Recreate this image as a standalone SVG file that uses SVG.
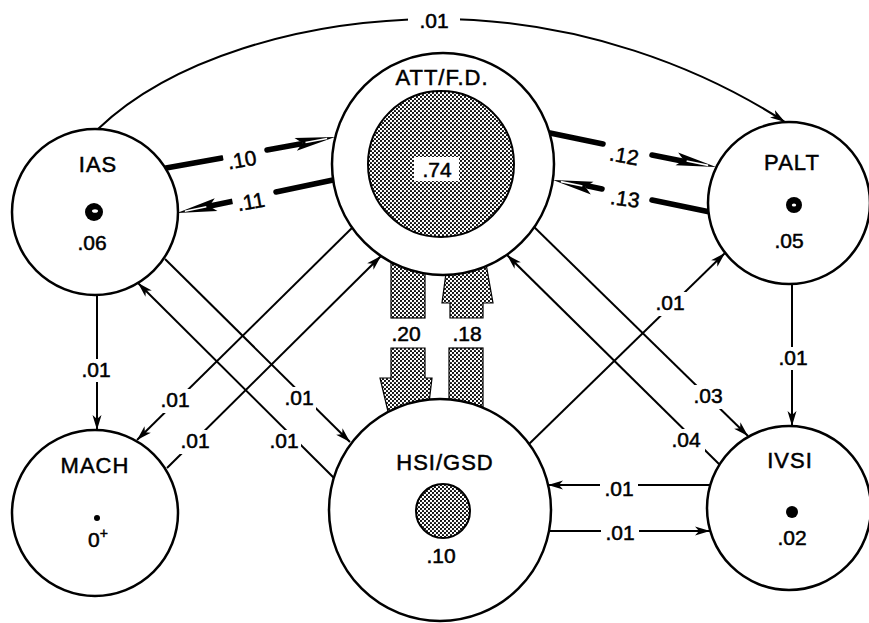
<svg xmlns="http://www.w3.org/2000/svg" width="869" height="623" viewBox="0 0 869 623">
<style>
.node{fill:#fff;stroke:#000;stroke-width:2.5}
.ln{fill:none;stroke:#000;stroke-width:2}
.thick{fill:none;stroke:#000;stroke-width:5.5;stroke-linecap:round}
.shade{fill:url(#dots);stroke:#000;stroke-width:1.2}
.gap{fill:#fff}
.name{font-family:"Liberation Sans",Arial,sans-serif;font-size:22px;letter-spacing:1px;text-anchor:middle;fill:#000;stroke:#000;stroke-width:0.5}
.val{font-family:"Liberation Sans",Arial,sans-serif;font-size:21px;text-anchor:middle;fill:#000;stroke:#000;stroke-width:0.5}
.lbl{font-family:"Liberation Sans",Arial,sans-serif;font-size:21px;text-anchor:middle;fill:#000;stroke:#000;stroke-width:0.5}
</style>
<defs>
<pattern id="dots" width="4" height="4" patternUnits="userSpaceOnUse">
<rect width="4" height="4" fill="#fff"/>
<circle cx="1" cy="1" r="1.1" fill="#000"/>
<circle cx="3" cy="3" r="1.1" fill="#000"/>
</pattern>
<marker id="ah" viewBox="-15 -5 16 10" refX="0" refY="0" markerWidth="16" markerHeight="10" markerUnits="userSpaceOnUse" orient="auto">
<path d="M0,0 L-15,-4.5 L-11,0 L-15,4.5 Z" fill="#000"/>
</marker>
<g id="bighead">
<path d="M0,0 L-40,-6.5 L-33,0 L-40,6.5 Z" fill="#000"/>
<path d="M-30,0 L-8,0" stroke="#fff" stroke-width="1.6"/>
</g>
</defs>

<g id="connectors">
<path class="ln" d="M98,129 C170,60 300,20 433,19 C580,18 705,70 785,122" marker-end="url(#ah)"/>
<path class="thick" d="M166,168 L222,158 M267,150 L300,144"/>
<use href="#bighead" transform="translate(335,137) rotate(-10.5)"/>
<path class="thick" d="M333,180 L276,192 M234,201 L210,206"/>
<use href="#bighead" transform="translate(177,213) rotate(168)"/>
<path class="thick" d="M550,133 L603,144 M652,155 L682,161"/>
<use href="#bighead" transform="translate(716,167) rotate(11.7)"/>
<path class="thick" d="M710,212 L652,200 M602,189 L588,186"/>
<use href="#bighead" transform="translate(553,180) rotate(-168.3)"/>
<rect class="shade" x="391" y="250" width="34" height="68"/>
<polygon class="shade" points="391,348 425,348 425,378 432,378 427,420 390,420 380,378 391,378"/>
<rect class="shade" x="449" y="348" width="34" height="72"/>
<polygon class="shade" points="450,318 483,318 483,303 493,303 485,258 448,258 442,303 450,303"/>
<line class="ln" x1="97" y1="295" x2="97" y2="430" marker-end="url(#ah)"/>
<line class="ln" x1="792" y1="284" x2="792" y2="426" marker-end="url(#ah)"/>
<line class="ln" x1="357" y1="223" x2="137" y2="440" marker-end="url(#ah)"/>
<line class="ln" x1="167" y1="468" x2="381" y2="256" marker-end="url(#ah)"/>
<line class="ln" x1="165" y1="259" x2="350" y2="442" marker-end="url(#ah)"/>
<line class="ln" x1="335" y1="479" x2="138" y2="283" marker-end="url(#ah)"/>
<line class="ln" x1="528" y1="445" x2="725" y2="253" marker-end="url(#ah)"/>
<line class="ln" x1="530" y1="223" x2="748" y2="436" marker-end="url(#ah)"/>
<line class="ln" x1="720" y1="465" x2="507" y2="255" marker-end="url(#ah)"/>
<line class="ln" x1="712" y1="485" x2="548" y2="485" marker-end="url(#ah)"/>
<line class="ln" x1="546" y1="531" x2="710" y2="531" marker-end="url(#ah)"/>

<!-- gaps behind labels -->
<rect class="gap" x="408" y="10" width="52" height="22"/>
<rect class="gap" x="224" y="150" width="36" height="22" transform="rotate(-10 242 161)"/>
<rect class="gap" x="233" y="192" width="36" height="22" transform="rotate(-10 251 203)"/>
<rect class="gap" x="606" y="146" width="36" height="22" transform="rotate(10 624 157)"/>
<rect class="gap" x="607" y="189" width="36" height="22" transform="rotate(8 625 200)"/>
<rect class="gap" x="81" y="359" width="30" height="23"/>
<rect class="gap" x="778" y="347" width="30" height="23"/>
<rect class="gap" x="158" y="389" width="34" height="24"/>
<rect class="gap" x="178" y="430" width="34" height="24"/>
<rect class="gap" x="282" y="387" width="34" height="24"/>
<rect class="gap" x="267" y="430" width="34" height="24"/>
<rect class="gap" x="653" y="292" width="34" height="24"/>
<rect class="gap" x="689" y="385" width="38" height="24"/>
<rect class="gap" x="667" y="429" width="38" height="24"/>
<rect class="gap" x="600" y="478" width="38" height="20"/>
<rect class="gap" x="601" y="522" width="38" height="20"/>

<text class="lbl" x="434" y="28">.01</text>
<text class="lbl" x="242" y="167" transform="rotate(-10 242 160)">.10</text>
<text class="lbl" x="251" y="209" transform="rotate(-10 251 202)">.11</text>
<text class="lbl" x="624" y="163" transform="rotate(10 624 156)">.12</text>
<text class="lbl" x="625" y="206" transform="rotate(8 625 199)">.13</text>
<text class="lbl" x="406" y="341">.20</text>
<text class="lbl" x="467" y="341">.18</text>
<text class="lbl" x="96" y="377">.01</text>
<text class="lbl" x="793" y="365">.01</text>
<text class="lbl" x="175" y="407">.01</text>
<text class="lbl" x="195" y="448">.01</text>
<text class="lbl" x="299" y="405">.01</text>
<text class="lbl" x="284" y="448">.01</text>
<text class="lbl" x="670" y="310">.01</text>
<text class="lbl" x="708" y="403">.03</text>
<text class="lbl" x="686" y="447">.04</text>
<text class="lbl" x="619" y="496">.01</text>
<text class="lbl" x="620" y="540">.01</text>
</g>

<g id="IAS">
<circle class="node" cx="95" cy="212" r="83"/>
<text class="name" x="98" y="172">IAS</text>
<circle cx="94" cy="212" r="9" fill="#000"/>
<ellipse cx="95" cy="211" rx="3" ry="1.8" fill="#fff"/>
<text class="val" x="92" y="250">.06</text>
</g>

<g id="ATT">
<circle class="node" cx="443" cy="164" r="111"/>
<circle cx="441" cy="164" r="73" fill="url(#dots)" stroke="#000" stroke-width="2"/>
<text class="name" x="442" y="85">ATT/F.D.</text>
<rect x="414" y="157" width="45" height="24" fill="#fff"/>
<text class="val" x="437" y="177">.74</text>
</g>

<g id="PALT">
<circle class="node" cx="789" cy="203" r="81"/>
<text class="name" x="792" y="170">PALT</text>
<circle cx="794" cy="205" r="8" fill="#000"/>
<ellipse cx="794" cy="205" rx="2.2" ry="1.6" fill="#fff"/>
<text class="val" x="789" y="248">.05</text>
</g>

<g id="MACH">
<circle class="node" cx="95" cy="513" r="83"/>
<text class="name" x="95" y="473">MACH</text>
<circle cx="97" cy="518" r="3" fill="#000"/>
<text class="val" x="98" y="547">0<tspan font-size="14" dy="-9">+</tspan></text>
</g>

<g id="HSI">
<circle class="node" cx="440" cy="510" r="111"/>
<text class="name" x="445" y="470">HSI/GSD</text>
<circle cx="443" cy="511" r="27" fill="url(#dots)" stroke="#000" stroke-width="2"/>
<text class="val" x="441" y="563">.10</text>
</g>

<g id="IVSI">
<circle class="node" cx="789" cy="508" r="82"/>
<text class="name" x="790" y="468">IVSI</text>
<circle cx="792" cy="512" r="6" fill="#000"/>
<text class="val" x="792" y="545">.02</text>
</g>
</svg>
